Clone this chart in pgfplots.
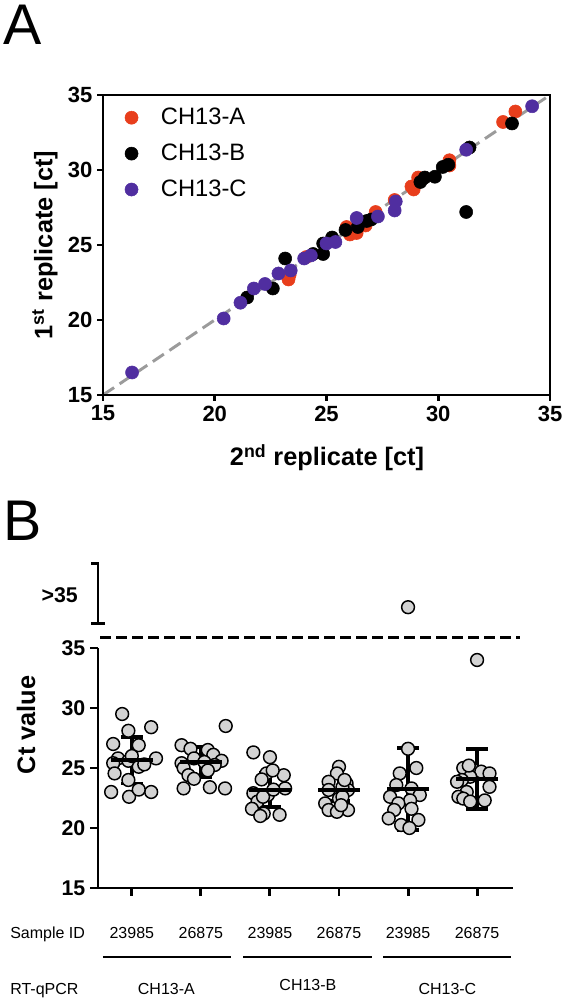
\documentclass[border=0pt]{standalone}
\usepackage{pgfplots}
\pgfplotsset{compat=1.18}
\usepackage{fontspec}
\setmainfont{Liberation Sans}
\definecolor{cA}{RGB}{232,62,28}
\definecolor{cB}{RGB}{0,0,0}
\definecolor{cC}{RGB}{80,46,160}
\definecolor{dotgray}{RGB}{211,211,211}
\definecolor{lgray}{RGB}{155,155,155}
\pgfplotsset{dotleg/.style={legend image code/.code={\path (0pt,0pt) (25.8pt,0pt); \draw[##1] plot coordinates {(6pt,0pt)};}}}
\begin{document}
\begin{tikzpicture}
\path[use as bounding box] (0,0) rectangle (424.5pt,749.25pt);
% panel letters
\node[anchor=base west, inner sep=0pt, font=\fontsize{43}{50}\selectfont] at (2.25pt,715.5pt) {A};
\node[anchor=base west, inner sep=0pt, font=\fontsize{43}{50}\selectfont] at (2.25pt,343.5pt) {B};
% Panel A
\begin{axis}[
  name=pA,
  at={(77.25pt,453pt)}, anchor=south west,
  scale only axis, width=335.25pt, height=225pt,
  xmin=15, xmax=35, ymin=15, ymax=35,
  xtick={15,20,25,30,35}, ytick={15,20,25,30,35},
  xtick pos=left, ytick pos=left,
  tick align=outside, major tick length=4.5pt,
  axis line style={line width=2.2pt, draw=black},
  every tick/.style={line width=2.2pt, black},
  tick label style={font=\bfseries\fontsize{16.5}{19}\selectfont},
  /pgf/number format/assume math mode=true,
  clip=false,
  legend style={at={(axis cs:15.895,34.3)}, anchor=north west, draw=none, fill=none,
    inner sep=0pt, font=\fontsize{17.8}{21}\selectfont, row sep=9pt},
  legend cell align=left,
]
\addplot[only marks, mark=*, mark size=4.9pt, color=cA, dotleg]
coordinates {(23.3,22.7) (23.35,23.0) (24.1,24.2) (25.9,26.2) (26.1,25.8) (26.35,25.8) (26.05,25.7)
 (26.75,26.3) (27.2,27.2) (28.05,28.0) (28.8,28.9) (28.9,28.7) (29.1,29.5) (30.5,30.65) (30.5,30.3)
 (32.9,33.2) (33.45,33.9)};
\addlegendentry{CH13-A}
\addplot[only marks, mark=*, mark size=4.9pt, color=cB, dotleg]
coordinates {(21.45,21.5) (22.6,22.1) (23.15,24.1) (24.4,24.4) (24.85,24.4) (24.85,25.1) (25.25,25.5)
 (25.85,26.0) (26.4,26.2) (26.8,26.6) (27.0,26.7) (29.2,29.2) (29.4,29.5) (29.85,29.55) (30.2,30.2)
 (30.45,30.35) (31.4,31.5) (31.25,27.2) (33.3,33.1)};
\addlegendentry{CH13-B}
\addplot[only marks, mark=*, mark size=4.9pt, color=cC, dotleg]
coordinates {(16.3,16.5) (20.4,20.1) (21.15,21.15) (21.75,22.1) (22.25,22.4) (22.85,23.1) (23.4,23.3)
 (24.0,24.1) (24.3,24.3) (25.0,25.1) (25.4,25.2) (26.35,26.8) (27.3,26.9) (28.1,27.9) (28.05,27.3)
 (31.25,31.35) (34.2,34.25)};
\addlegendentry{CH13-C}
\addplot[lgray, line width=2.2pt, dash pattern=on 10pt off 5pt, forget plot] coordinates {(15,15) (35,35)};
\end{axis}
\draw[line width=2.2pt, draw=black] (pA.south west) rectangle (pA.north east);
\node[rotate=90, font=\bfseries\fontsize{19}{22}\selectfont] at (33.75pt,565.5pt) {1\textsuperscript{st} replicate [ct]};
\node[font=\bfseries\fontsize{19}{22}\selectfont] at (245.25pt,405.75pt) {2\textsuperscript{nd} replicate [ct]};
% Panel B
\begin{axis}[
  at={(73.5pt,83.25pt)}, anchor=south west,
  scale only axis, width=311.25pt, height=180pt,
  xmin=-0.49, xmax=5.52, ymin=15, ymax=35,
  axis x line*=bottom, axis y line*=left,
  xtick={0,1,2,3,4,5}, xticklabels={}, ytick={15,20,25,30,35},
  tick align=outside, major tick length=6pt,
  axis line style={line width=2.2pt, -},
  every tick/.style={line width=2.2pt, black},
  yticklabel style={font=\bfseries\fontsize{16}{19}\selectfont},
  /pgf/number format/assume math mode=true,
  clip=false,
]
\addplot[only marks, mark=*, mark size=4.8pt, mark options={fill=dotgray, draw=black, line width=1.1pt}]
coordinates {(-0.14,29.5) (0.28,28.4) (-0.05,28.1) (-0.27,27.0) (0.1,26.9) (-0.2,25.8) (0.35,25.8)
 (-0.05,25.6) (-0.27,25.4) (0.1,25.1) (-0.25,24.55) (-0.05,24.0) (-0.3,23.0) (0.28,23.0) (-0.04,22.6)
 (0.1,23.2) (0.0,26.0) (0.18,25.3)};
\addplot[only marks, mark=*, mark size=4.8pt, mark options={fill=dotgray, draw=black, line width=1.1pt}]
coordinates {(1.36,28.5) (0.72,26.9) (0.85,26.6) (1.1,26.5) (1.18,26.1) (0.9,25.8) (1.05,25.5) (0.72,25.4)
 (1.3,25.6) (1.2,25.25) (0.75,25.0) (1.1,24.8) (0.82,24.4) (0.9,24.1) (0.75,23.3) (1.35,23.3) (1.13,23.4)};
\addplot[only marks, mark=*, mark size=4.8pt, mark options={fill=dotgray, draw=black, line width=1.1pt}]
coordinates {(1.76,26.3) (2.0,25.9) (1.95,24.55) (2.2,24.4) (2.04,24.8) (2.22,23.3) (1.76,22.9) (1.97,22.75)
 (1.82,22.2) (1.9,22.6) (1.74,21.6) (1.91,21.2) (2.14,21.1) (1.86,21.0) (1.88,24.05) (2.05,23.2)};
\addplot[only marks, mark=*, mark size=4.8pt, mark options={fill=dotgray, draw=black, line width=1.1pt}]
coordinates {(3.0,25.1) (2.97,24.55) (2.85,23.85) (3.11,23.7) (2.85,23.17) (3.13,23.17) (3.0,22.45)
 (2.8,22.05) (2.85,21.5) (3.13,21.5) (2.97,21.35) (3.05,23.4) (3.05,22.6) (3.03,21.9) (3.08,24.0)};
\addplot[only marks, mark=*, mark size=4.8pt, mark options={fill=dotgray, draw=black, line width=1.1pt}]
coordinates {(4.0,26.6) (4.12,25.0) (3.88,24.55) (3.83,23.58) (4.05,23.3) (4.17,22.75) (3.74,22.6)
 (4.03,22.3) (3.86,22.05) (4.05,21.6) (3.8,21.5) (4.15,20.67) (3.72,20.8) (3.9,20.25) (4.02,20.0) (4.0,38.4)};
\addplot[only marks, mark=*, mark size=4.8pt, mark options={fill=dotgray, draw=black, line width=1.1pt}]
coordinates {(4.8,25.0) (4.95,24.83) (5.06,24.7) (5.18,24.55) (4.9,24.27) (4.78,24.0) (4.71,23.85)
 (5.18,23.43) (4.85,23.0) (4.73,22.6) (4.8,22.45) (5.11,22.3) (4.9,22.2) (4.88,25.2) (5.0,34.0)};
% mean +- SD
\addplot[only marks, mark=-, mark size=15.75pt, mark options={line width=2.8pt, black}, black,
  error bars/.cd, y dir=both, y explicit, error mark=|,
  error bar style={line width=2.8pt, black},
  error mark options={mark size=8.25pt, line width=2.8pt, black}]
coordinates {(0,25.65) +- (0,1.95) (1,25.5) +- (0,1.24) (2,23.17) +- (0,1.42)
 (3,23.17) +- (0,0.95) (4,23.25) +- (0,3.4) (5,24.08) +- (0,2.48)};
% broken axis decorations
\draw[line width=2.2pt, dash pattern=on 8pt off 4pt] (axis cs:-0.46,35.9) -- (axis cs:5.62,35.9);
\draw[line width=2.2pt] ([xshift=-5pt]axis cs:-0.49,42.08) -- (axis cs:-0.49,42.08) -- (axis cs:-0.49,37.08);
\draw[line width=2.2pt] ([xshift=-5pt]axis cs:-0.49,37.08) -- ([xshift=5pt]axis cs:-0.49,37.08);
\node[anchor=east, inner sep=0pt, font=\bfseries\fontsize{16}{19}\selectfont] at ([xshift=-15pt]axis cs:-0.49,39.4) {>35};
% category labels
\node[anchor=base, inner sep=0pt, font=\fontsize{12}{14}\selectfont] at (axis cs:0,10.8) {23985};
\node[anchor=base, inner sep=0pt, font=\fontsize{12}{14}\selectfont] at (axis cs:1,10.8) {26875};
\node[anchor=base, inner sep=0pt, font=\fontsize{12}{14}\selectfont] at (axis cs:2,10.8) {23985};
\node[anchor=base, inner sep=0pt, font=\fontsize{12}{14}\selectfont] at (axis cs:3,10.8) {26875};
\node[anchor=base, inner sep=0pt, font=\fontsize{12}{14}\selectfont] at (axis cs:4,10.8) {23985};
\node[anchor=base, inner sep=0pt, font=\fontsize{12}{14}\selectfont] at (axis cs:5,10.8) {26875};
\draw[line width=2.2pt] (axis cs:-0.42,9.25) -- (axis cs:1.44,9.25);
\draw[line width=2.2pt] (axis cs:1.61,9.25) -- (axis cs:3.48,9.25);
\draw[line width=2.2pt] (axis cs:3.64,9.25) -- (axis cs:5.49,9.25);
\node[anchor=base, inner sep=0pt, font=\fontsize{12}{14}\selectfont] at (axis cs:0.5,6.125) {CH13-A};
\node[anchor=base, inner sep=0pt, font=\fontsize{12}{14}\selectfont] at (axis cs:2.55,6.5) {CH13-B};
\node[anchor=base, inner sep=0pt, font=\fontsize{12}{14}\selectfont] at (axis cs:4.57,6.125) {CH13-C};
\end{axis}
\node[anchor=base west, inner sep=0pt, font=\fontsize{12}{14}\selectfont] at (7.5pt,45.4pt) {Sample ID};
\node[anchor=base west, inner sep=0pt, font=\fontsize{12}{14}\selectfont] at (7.5pt,3.4pt) {RT-qPCR};
\node[rotate=90, font=\bfseries\fontsize{19}{22}\selectfont] at (19.5pt,205.5pt) {Ct value};
\end{tikzpicture}
\end{document}
